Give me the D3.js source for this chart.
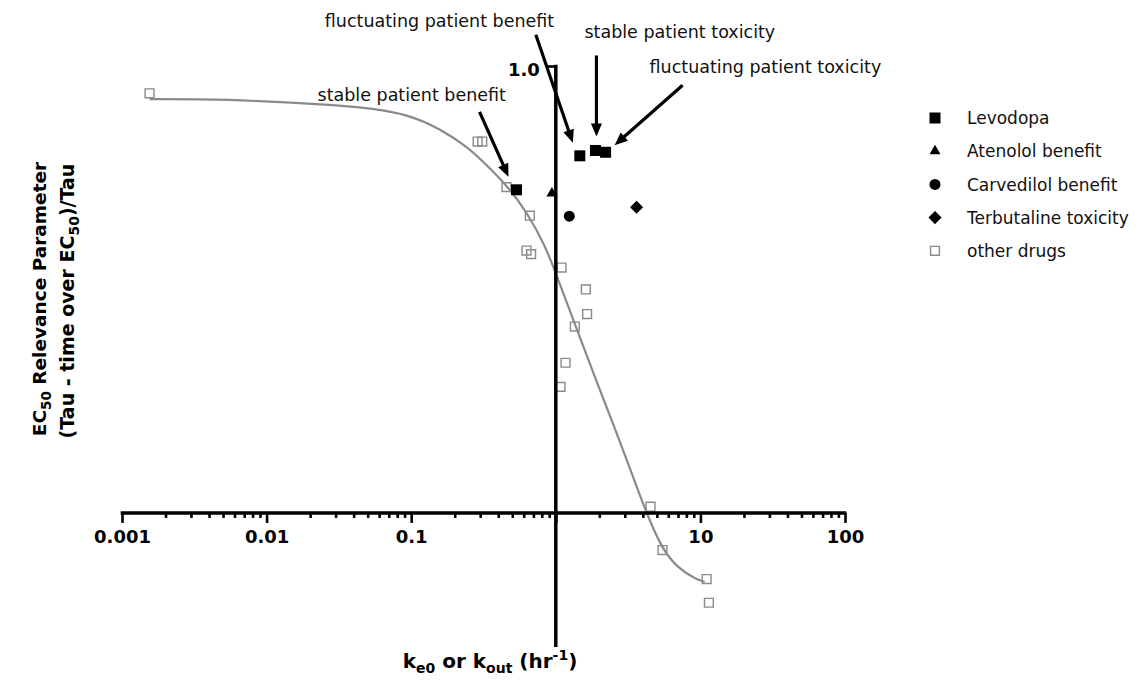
<!DOCTYPE html>
<html>
<head>
<meta charset="utf-8">
<script src="https://cdn.jsdelivr.net/npm/d3@7"></script>
<style>
  html, body { margin: 0; padding: 0; background: #fff; }
  svg { display: block; font-family: "DejaVu Sans", Verdana, sans-serif; }
</style>
</head>
<body>
<svg id="chart" width="1145" height="683"></svg>
<script>
// ---- axis ranges and tick labels ----
const xDomain = [0.001, 100];
const yDomain = [-0.3, 1.0];
const xMajorTicks = [0.001, 0.01, 0.1, 1, 10, 100];
const xTickLabels = ["0.001", "0.01", "0.1", "", "10", "100"];
const yTicks = [1.0];

// ---- Levodopa (k, relevance parameter) ----
const levodopaK = [0.535, 1.466, 1.88, 2.21];
const levodopaR = [0.723, 0.799, 0.811, 0.807];
const levodopaNotes = [
  "stable patient benefit",
  "fluctuating patient benefit",
  "stable patient toxicity",
  "fluctuating patient toxicity"
];

// ---- single-drug markers ----
const atenololK = [0.94];
const atenololR = [0.715];
const carvedilolK = [1.24];
const carvedilolR = [0.664];
const terbutalineK = [3.62];
const terbutalineR = [0.684];

// ---- other drugs ----
const otherK = [0.00155, 0.288, 0.310, 0.456, 0.661, 0.627, 0.675, 1.095, 1.613,
                1.646, 1.354, 1.167, 1.078, 4.52, 5.47, 11.04, 11.45];
const otherR = [0.939, 0.831, 0.831, 0.729, 0.665, 0.587, 0.579, 0.549, 0.500,
                0.445, 0.417, 0.336, 0.282, 0.014, -0.083, -0.148, -0.201];

// ---- fitted sigmoid, sampled along the curve ----
const fitK = [0.00155, 0.0055, 0.027, 0.054, 0.093, 0.157, 0.24, 0.33, 0.46, 0.63,
              0.82, 1.0, 1.35, 1.86, 2.43, 3.16, 4.13, 5.38, 7.0, 9.2, 10.7];
const fitR = [0.926, 0.924, 0.913, 0.904, 0.889, 0.858, 0.819, 0.779, 0.730, 0.670,
              0.603, 0.536, 0.424, 0.305, 0.208, 0.111, 0.011, -0.072, -0.120, -0.146, -0.154];

// ---- legend entries ----
const legendLabels = ["Levodopa", "Atenolol benefit", "Carvedilol benefit",
                      "Terbutaline toxicity", "other drugs"];

const svg = d3.select("#chart");
const x = d3.scaleLog().domain(xDomain).range([122, 845]);
const y = d3.scaleLinear().domain(yDomain).range([647, 66]);

const grey = "#8a8a8a";

// symbol paths
const squareFilled = d3.symbol().type(d3.symbolSquare).size(121)();
const squareOpen = d3.symbol().type(d3.symbolSquare).size(78)();
const triangle = d3.symbol().type(d3.symbolTriangle).size(52)();
const circle = d3.symbol().type(d3.symbolCircle).size(95)();
const diamond = d3.symbol().type(d3.symbolSquare).size(86)();

// ---- fitted curve ----
const fit = fitK.map((k, i) => ({ k, r: fitR[i] }));
svg.append("path")
  .datum(fit)
  .attr("fill", "none")
  .attr("stroke", grey)
  .attr("stroke-width", 2.2)
  .attr("d", d3.line().x(d => x(d.k)).y(d => y(d.r)).curve(d3.curveNatural));

// ---- other drugs (open squares) ----
svg.append("g").selectAll("path")
  .data(otherK.map((k, i) => ({ k, r: otherR[i] })))
  .join("path")
  .attr("d", squareOpen)
  .attr("transform", d => `translate(${x(d.k)},${y(d.r)})`)
  .attr("fill", "none")
  .attr("stroke", grey)
  .attr("stroke-width", 1.4);

// ---- filled markers ----
function drawMarkers(ks, rs, shape, rotate) {
  svg.append("g").selectAll("path")
    .data(ks.map((k, i) => ({ k, r: rs[i] })))
    .join("path")
    .attr("d", shape)
    .attr("transform", d => `translate(${x(d.k)},${y(d.r)})` + (rotate ? ` rotate(${rotate})` : ""))
    .attr("fill", "#000");
}
drawMarkers(levodopaK, levodopaR, squareFilled);
drawMarkers(atenololK, atenololR, triangle);
drawMarkers(carvedilolK, carvedilolR, circle);
drawMarkers(terbutalineK, terbutalineR, diamond, 45);

// ---- x axis through y = 0 ----
const x0 = y(0);
const isDecade = v => Math.abs(Math.log10(v) - Math.round(Math.log10(v))) < 1e-9;
const minorTicks = x.ticks().filter(v => !isDecade(v));

const minorAxis = svg.append("g")
  .attr("transform", `translate(0,${x0})`)
  .call(d3.axisBottom(x).tickValues(minorTicks).tickSize(5).tickSizeOuter(0).tickFormat(""));
const majorAxis = svg.append("g")
  .attr("transform", `translate(0,${x0})`)
  .call(d3.axisBottom(x).tickValues(xMajorTicks).tickSize(10).tickSizeOuter(0)
    .tickPadding(7).tickFormat((d, i) => xTickLabels[i]));
[minorAxis, majorAxis].forEach(g => {
  g.select(".domain").remove();
  g.selectAll(".tick line").attr("stroke", "#000").attr("stroke-width", 2.6);
});
majorAxis.selectAll(".tick text")
  .attr("fill", "#000")
  .style("font-family", "'DejaVu Sans', Verdana, sans-serif")
  .style("font-size", "18px")
  .style("font-weight", "bold");

svg.append("line")
  .attr("x1", x(xDomain[0]) - 1.3).attr("x2", x(xDomain[1]) + 1.3)
  .attr("y1", x0).attr("y2", x0)
  .attr("stroke", "#000").attr("stroke-width", 3.5);

// ---- y axis through x = 1 ----
const yAxis = svg.append("g")
  .attr("transform", `translate(${x(1)},0)`)
  .call(d3.axisLeft(y).tickValues(yTicks).tickSize(8).tickSizeOuter(0)
    .tickPadding(8).tickFormat(d3.format(".1f")));
yAxis.select(".domain").remove();
yAxis.selectAll(".tick line").attr("stroke", "#000").attr("stroke-width", 2.6);
yAxis.selectAll(".tick text")
  .attr("fill", "#000")
  .attr("dy", "0.52em")
  .style("font-family", "'DejaVu Sans', Verdana, sans-serif")
  .style("font-size", "18px")
  .style("font-weight", "bold");
svg.append("line")
  .attr("x1", x(1)).attr("x2", x(1))
  .attr("y1", y(yDomain[0])).attr("y2", y(yDomain[1]) - 1.3)
  .attr("stroke", "#000").attr("stroke-width", 3.5);

// ---- annotation arrows for the Levodopa points ----
// offsets (px) from each point: arrow tip, arrow tail, label start/baseline
const noteTip  = [[-8, -13], [-7, -13], [1, -14], [9, -7]];
const noteTail = [[-37, -78], [-44, -121], [1, -95], [77, -67]];
const noteText = [[-199, -89], [-255, -129], [-11, -112], [44, -79]];

const notes = svg.append("g");
levodopaK.forEach((k, i) => {
  const px = x(k), py = y(levodopaR[i]);
  const tx = px + noteTip[i][0], ty = py + noteTip[i][1];
  const sx = px + noteTail[i][0], sy = py + noteTail[i][1];
  const ang = Math.atan2(ty - sy, tx - sx);
  const headLen = 13, headHalf = 5.5;
  const bx = tx - headLen * Math.cos(ang), by = ty - headLen * Math.sin(ang);
  notes.append("line")
    .attr("x1", sx).attr("y1", sy).attr("x2", bx + Math.cos(ang)).attr("y2", by + Math.sin(ang))
    .attr("stroke", "#000").attr("stroke-width", 3.2);
  notes.append("path")
    .attr("d", d3.line()([
      [tx, ty],
      [bx + headHalf * Math.sin(ang), by - headHalf * Math.cos(ang)],
      [bx - headHalf * Math.sin(ang), by + headHalf * Math.cos(ang)]
    ]) + "Z")
    .attr("fill", "#000");
  notes.append("text")
    .attr("x", px + noteText[i][0]).attr("y", py + noteText[i][1])
    .attr("fill", "#111")
    .style("font-size", "17.5px")
    .text(levodopaNotes[i]);
});

// ---- legend ----
const legendShapes = [
  { d: squareFilled, fill: "#000", stroke: "none", rot: 0 },
  { d: triangle, fill: "#000", stroke: "none", rot: 0 },
  { d: circle, fill: "#000", stroke: "none", rot: 0 },
  { d: diamond, fill: "#000", stroke: "none", rot: 45 },
  { d: squareOpen, fill: "none", stroke: grey, rot: 0 }
];
const legend = svg.append("g").attr("transform", "translate(935,118)");
legendLabels.forEach((lab, i) => {
  const row = legend.append("g").attr("transform", `translate(0,${i * 33.2})`);
  const s = legendShapes[i];
  row.append("path")
    .attr("d", s.d)
    .attr("transform", s.rot ? `rotate(${s.rot})` : null)
    .attr("fill", s.fill)
    .attr("stroke", s.stroke)
    .attr("stroke-width", 1.4);
  row.append("text")
    .attr("x", 32).attr("y", 0).attr("dy", "0.36em")
    .attr("fill", "#111")
    .style("font-size", "17px")
    .text(lab);
});

// ---- axis titles ----
const xTitle = svg.append("text")
  .attr("x", 490).attr("y", 668)
  .attr("text-anchor", "middle")
  .style("font-size", "20px").style("font-weight", "bold");
xTitle.append("tspan").text("k");
xTitle.append("tspan").attr("dy", 5).style("font-size", "14px").text("e0");
xTitle.append("tspan").attr("dy", -5).text(" or k");
xTitle.append("tspan").attr("dy", 5).style("font-size", "14px").text("out");
xTitle.append("tspan").attr("dy", -5).text(" (hr");
xTitle.append("tspan").attr("dy", -8).style("font-size", "14px").text("-1");
xTitle.append("tspan").attr("dy", 8).text(")");

const yTitle1 = svg.append("text")
  .attr("transform", "translate(46,299) rotate(-90)")
  .attr("text-anchor", "middle")
  .style("font-size", "18.5px").style("font-weight", "bold");
yTitle1.append("tspan").text("EC");
yTitle1.append("tspan").attr("dy", 5).style("font-size", "13.5px").text("50");
yTitle1.append("tspan").attr("dy", -5).text(" Relevance Parameter");

const yTitle2 = svg.append("text")
  .attr("transform", "translate(74,301) rotate(-90)")
  .attr("text-anchor", "middle")
  .style("font-size", "19px").style("font-weight", "bold");
yTitle2.append("tspan").text("(Tau - time over EC");
yTitle2.append("tspan").attr("dy", 5).style("font-size", "14px").text("50");
yTitle2.append("tspan").attr("dy", -5).text(")/Tau");
</script>
</body>
</html>
